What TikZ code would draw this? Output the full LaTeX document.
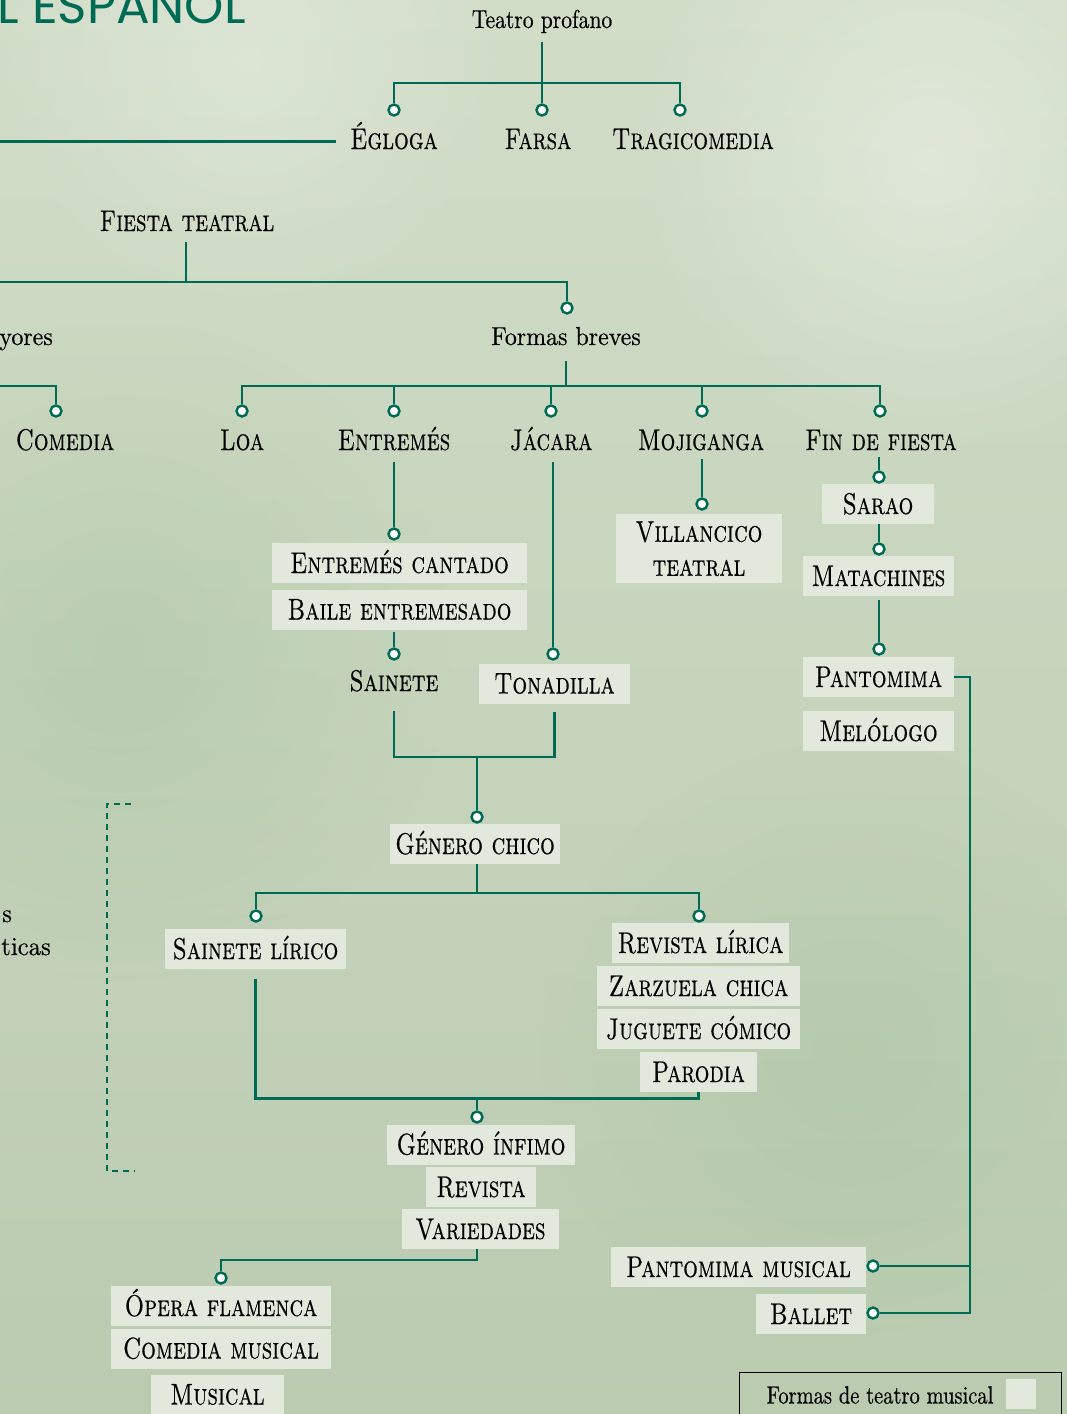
\documentclass[tikz,border=0pt]{standalone}
\usepackage{fontspec}
\usepackage{graphicx}
\usepackage{tikz}
\usetikzlibrary{calc,fadings}
\newfontfamily\titlefont{Poppins}
\newfontfamily\capsfont[FakeBold=0.5]{lmromancaps10-regular.otf}
\newfontfamily\romfont[FakeBold=0.4]{lmroman10-regular.otf}
\definecolor{tealgreen}{RGB}{0,107,84}
\definecolor{boxfill}{RGB}{226,232,220}
\definecolor{bgtop}{RGB}{210,221,200}
\definecolor{bgbot}{RGB}{186,203,176}
\tikzfading[name=softspot, inner color=transparent!0, outer color=transparent!100]
\newcommand{\cond}[1]{\scalebox{0.77}[1]{#1}}
\newcommand{\condr}[1]{\scalebox{0.83}[1]{#1}}
\tikzset{
	sc/.style={inner sep=0pt, font=\capsfont\fontsize{30}{34}\selectfont, text height=20pt, text depth=0pt},
	rm/.style={inner sep=0pt, font=\romfont\fontsize{26}{30}\selectfont, text height=18pt, text depth=0pt},
	mbox/.style={sc, fill=boxfill, minimum height=40},
	conn/.style={draw=tealgreen, line width=2.6},
	dot/.style={circle, draw=tealgreen, fill=white, line width=2.4, minimum size=11, inner sep=0pt}
}

\begin{document}
\begin{tikzpicture}[x=1pt,y=-1pt]
		\useasboundingbox (0,0) rectangle (1067,1414);
		\shade[top color=bgtop, bottom color=bgbot] (0,0) rectangle (1067,1414);
		% paper blotches
		\fill[white, opacity=0.35, path fading=softspot] (930,160) circle (300);
		\fill[white, opacity=0.25, path fading=softspot] (250,60) circle (260);
		\fill[black!60!green, opacity=0.07, path fading=softspot] (120,650) circle (340);
		\fill[black!60!green, opacity=0.05, path fading=softspot] (850,1050) circle (320);

		\node[anchor=base west, inner sep=0pt, font=\titlefont\fontsize{50}{50}\selectfont, text=tealgreen] (titl) at (-3,23) {L ESPAÑOL};

		% teatro profano
		\node[rm] (prof) at (542,19) {\condr{Teatro profano}};
		\node[dot] (dEgl) at (394,110) {};
		\node[dot] (dFar) at (542,110) {};
		\node[dot] (dTrag) at (680,110) {};
		\node[sc] (egl) at (394,139) {\cond{Égloga}};
		\node[sc] (far) at (538,139) {\cond{Farsa}};
		\node[sc] (trag) at (693,139) {\cond{Tragicomedia}};
		\coordinate (jProf) at (542,83);
		\coordinate (lEdge) at (0,141.5);
		\draw[conn] ([yshift=-14pt]prof.south) -- (jProf);
		\draw[conn] (dEgl) |- (jProf) -| (dTrag);
		\draw[conn] (jProf) -- (dFar);
		\draw[conn, shorten >=14pt] (lEdge) -- (lEdge -| egl.west);

		% fiesta teatral
		\node[sc] (fiesta) at (187,221) {\cond{Fiesta teatral}};
		\node[rm, anchor=east] (may) at (53,336) {\scalebox{0.92}[1]{yores}};
		\node[rm] (brev) at (566,336) {\scalebox{0.92}[1]{Formas breves}};
		\node[dot] (dBrev) at (567,308) {};
		\coordinate (jFiesta) at (186,282);
		\coordinate (lEdge2) at (0,282);
		\draw[conn] ([yshift=-11pt]fiesta.south -| jFiesta) -- (jFiesta);
		\draw[conn] (lEdge2) -| (dBrev);

		% formas breves
		\node[dot] (dCom) at (56,411) {};
		\node[dot] (dLoa) at (242,411) {};
		\node[dot] (dEnt) at (394,411) {};
		\node[dot] (dJac) at (551,411) {};
		\node[dot] (dMoj) at (702,411) {};
		\node[dot] (dFin) at (880,411) {};
		\node[sc] (com) at (65,440) {\cond{Comedia}};
		\node[sc] (loa) at (242,440) {\cond{Loa}};
		\node[sc] (ent) at (394,440) {\cond{Entremés}};
		\node[sc] (jac) at (551,440) {\cond{Jácara}};
		\node[sc] (moj) at (701,440) {\cond{Mojiganga}};
		\node[sc] (fin) at (881,440) {\cond{Fin de fiesta}};
		\coordinate (jBrev) at (566,386);
		\coordinate (lEdge3) at (0,386);
		\draw[conn] ([yshift=-16pt]brev.south) -- (jBrev);
		\draw[conn] (dLoa) |- (jBrev) -| (dFin);
		\draw[conn] (dEnt) -- (dEnt |- jBrev);
		\draw[conn] (dJac) -- (dJac |- jBrev);
		\draw[conn] (dMoj) -- (dMoj |- jBrev);
		\draw[conn] (lEdge3) -| (dCom);

		% entremes, jacara
		\node[dot] (dEntC) at (394,534) {};
		\node[mbox, minimum width=255] (entc) at (399.5,563) {\cond{Entremés cantado}};
		\node[mbox, minimum width=255] (baile) at (399.5,609.5) {\cond{Baile entremesado}};
		\node[dot] (dSai) at (394,654) {};
		\node[sc] (sai) at (394,681) {\cond{Sainete}};
		\node[dot] (dTon) at (553,654) {};
		\node[mbox, minimum width=151] (ton) at (554.5,683.5) {\cond{Tonadilla}};
		\draw[conn, shorten <=12pt] (ent.south -| dEntC) -- (dEntC);
		\draw[conn, shorten <=2pt] (baile.south -| dSai) -- (dSai);
		\draw[conn, shorten <=12pt] (jac.south -| dTon) -- (dTon);

		% mojiganga, fin de fiesta
		\node[dot] (dVil) at (702,504) {};
		\node[sc, fill=boxfill, minimum width=166, minimum height=69, text height=, align=center] (vil) at (699,548.5) {\cond{Villancico}\\\cond{teatral}};
		\node[dot] (dSar) at (879,477) {};
		\node[mbox, minimum width=112] (sar) at (878,504) {\cond{Sarao}};
		\node[dot] (dMat) at (879,549) {};
		\node[mbox, minimum width=151] (mat) at (878.5,576) {\cond{Matachines}};
		\node[dot] (dPan) at (879,649) {};
		\node[mbox, minimum width=151] (pant) at (878.5,677) {\cond{Pantomima}};
		\node[mbox, minimum width=151] (mel) at (878.5,731) {\cond{Melólogo}};
		\draw[conn, shorten <=9pt] (moj.south -| dVil) -- (dVil);
		\draw[conn, shorten <=7pt] (fin.south -| dSar) -- (dSar);
		\draw[conn] (sar.south -| dMat) -- (dMat);
		\draw[conn, shorten <=4pt] (mat.south -| dPan) -- (dPan);

		% genero chico
		\coordinate (jGen) at (477,757);
		\node[dot] (dGch) at (477,817) {};
		\node[mbox, minimum width=170] (gch) at (475,844) {\cond{Género chico}};
		\draw[conn] ([yshift=-20pt]sai.south) |- (jGen) -| ([yshift=-8pt]ton.south);
		\draw[conn] (jGen) -- (dGch);
		\coordinate (jGch) at (477,893);
		\node[dot] (dSl) at (256,916) {};
		\node[dot] (dRl) at (699,916) {};
		\draw[conn] (gch.south -| jGch) -- (jGch);
		\draw[conn] (dSl) |- (jGch) -| (dRl);
		\node[mbox, minimum width=181] (sl) at (255.5,949) {\cond{Sainete lírico}};
		\node[mbox, minimum width=177] (rl) at (700.5,943) {\cond{Revista lírica}};
		\node[mbox, minimum width=203] (zz) at (698.5,986) {\cond{Zarzuela chica}};
		\node[mbox, minimum width=203] (jg) at (698.5,1029) {\cond{Juguete cómico}};
		\node[mbox, minimum width=117] (par) at (698.5,1072) {\cond{Parodia}};

		% genero infimo
		\coordinate (jInf) at (477,1098.5);
		\node[dot] (dInf) at (477,1117) {};
		\draw[conn] ([yshift=-10pt]sl.south) |- (jInf) -| (par.south);
		\draw[conn] (jInf) -- (dInf);
		\node[mbox, minimum width=188] (inf) at (481,1144.5) {\cond{Género ínfimo}};
		\node[mbox, minimum width=110] (rev) at (481,1187) {\cond{Revista}};
		\node[mbox, minimum width=157] (var) at (480.5,1229) {\cond{Variedades}};
		\coordinate (jVar) at (477,1260);
		\node[dot] (dOf) at (221,1278) {};
		\draw[conn] (var.south -| jVar) -- (jVar) -| (dOf);
		\node[mbox, minimum width=220] (of) at (221,1306) {\cond{Ópera flamenca}};
		\node[mbox, minimum width=220] (cm) at (221,1348.5) {\cond{Comedia musical}};
		\node[mbox, minimum width=133] (mus) at (217.5,1394.5) {\cond{Musical}};

		% pantomima
		\node[mbox, minimum width=255] (pm) at (738.5,1267) {\cond{Pantomima musical}};
		\node[mbox, minimum width=110] (bal) at (811,1314) {\cond{Ballet}};
		\node[dot] (dPm) at (873,1266) {};
		\node[dot] (dBal) at (873,1313) {};
		\coordinate (rail) at (970,1313);
		\draw[conn] (pant.east) -| (rail) -- (dBal);
		\draw[conn] (dPm) -- (dPm -| rail);

		% left side
		\node[rm, anchor=base east] (frS) at (12,922) {\scalebox{0.92}[1]{s}};
		\node[rm, anchor=base east] (frTic) at (51,955) {\scalebox{0.95}[1]{ticas}};
		\coordinate (bTop) at (131,804);
		\coordinate (bBot) at (135,1171);
		\draw[conn, line width=2.2, dash pattern=on 6pt off 5pt] (bTop) -| (107,1171) -- (bBot);

		% legend
		\draw[black, line width=1] (739,1372) rectangle (1061,1422);
		\node[inner sep=0pt, font=\romfont\fontsize{25}{28}\selectfont, text height=17pt, text depth=0pt] (legtxt) at (880,1395) {\scalebox{0.82}[1]{Formas de teatro musical}};
		\node[fill=boxfill, minimum size=30, inner sep=0pt] (legsw) at (1021,1394) {};
	\end{tikzpicture}
\end{document}
